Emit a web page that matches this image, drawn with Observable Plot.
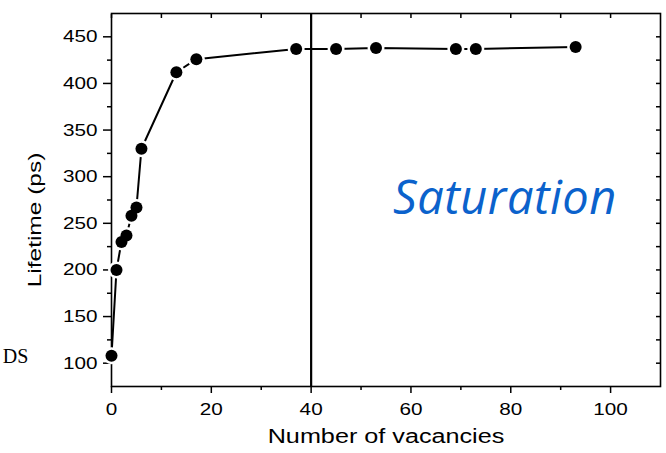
<!DOCTYPE html>
<html><head><meta charset="utf-8">
<script src="https://cdn.jsdelivr.net/npm/d3@7"></script>
<script src="https://cdn.jsdelivr.net/npm/@observablehq/plot@0.6"></script>
<style>body{margin:0;background:#fff}</style>
</head><body><div id="chart"></div>
<script>
const vacancies = [0, 1, 2, 3, 4, 5, 6, 13, 17, 37, 45, 53, 69, 73, 93];
const lifetime = [108, 200, 230, 237, 258, 267, 330, 412, 426, 437, 437, 438, 437, 437, 439];
const xTicks = [0, 20, 40, 60, 80, 100];
const xMinorTicks = [10, 30, 50, 70, 90];
const xTopTicks = [0, 10, 20, 30, 40, 50, 60, 70, 80, 90, 100];
const yTicks = [100, 150, 200, 250, 300, 350, 400, 450];
const yMinorTicks = [125, 175, 225, 275, 325, 375, 425];
const yRightTicks = [100, 125, 150, 175, 200, 225, 250, 275, 300, 325, 350, 375, 400, 425, 450];
const saturationLine = [40];
const annotations = [
  {x: 56.4, y: 276.5, text: "Saturation"}
];
const sideNote = [{x: -21.8, y: 107, text: "DS"}];

const data = vacancies.map((v, i) => ({vacancies: v, lifetime: lifetime[i]}));

const chart = Plot.plot({
  width: 666,
  height: 453,
  marginLeft: 111,
  marginRight: 6,
  marginTop: 13,
  marginBottom: 67,
  style: {fontFamily: "'Liberation Sans', Arial, sans-serif", fontSize: "17px", background: "#fff", color: "#000"},
  x: {domain: [0, 110]},
  y: {domain: [75, 475]},
  marks: [
    Plot.axisX({ticks: xTicks, tickSize: 7, tickPadding: 9, label: "Number of vacancies", labelAnchor: "center", labelOffset: 56, labelArrow: "none", strokeWidth: 1.5}),
    Plot.axisX({ticks: xMinorTicks, tickSize: 4, tickFormat: () => "", label: null, strokeWidth: 1.5}),
    Plot.axisX({anchor: "top", ticks: xTopTicks, tickSize: -4, tickFormat: () => "", label: null, strokeWidth: 1.5}),
    Plot.axisY({ticks: yTicks, tickSize: 8, tickPadding: 6, label: "Lifetime (ps)", labelAnchor: "center", labelOffset: 77, labelArrow: "none", strokeWidth: 1.5}),
    Plot.axisY({ticks: yMinorTicks, tickSize: 4, tickFormat: () => "", label: null, strokeWidth: 1.5}),
    Plot.axisY({anchor: "right", ticks: yRightTicks, tickSize: -5, tickFormat: () => "", label: null, strokeWidth: 1.5}),
    Plot.frame({stroke: "#000", strokeWidth: 1.6}),
    Plot.ruleX(saturationLine, {stroke: "#000", strokeWidth: 2.2}),
    Plot.line(data, {x: "vacancies", y: "lifetime", stroke: "#000", strokeWidth: 2}),
    Plot.dot(data, {x: "vacancies", y: "lifetime", r: 8.5, fill: "#fff"}),
    Plot.dot(data, {x: "vacancies", y: "lifetime", r: 6, fill: "#000"}),
    Plot.text(annotations, {x: "x", y: "y", text: "text", textAnchor: "start", fontSize: 47, fontStyle: "italic", fontFamily: "'Open Sans', sans-serif", fill: "#0b62cc"}),
    Plot.text(sideNote, {x: "x", y: "y", text: "text", textAnchor: "start", fontSize: 20, fontFamily: "'Liberation Serif', serif", fill: "#000", clip: false})
  ]
});
document.getElementById("chart").appendChild(chart);

// Horizontal stretch of axis text, as in the reference
const svg = d3.select(chart);
svg.selectAll('g[aria-label="text"] text').each(function() {
  if (this.textContent === "Saturation") this.style.letterSpacing = "0.5px";
});
svg.selectAll('g[aria-label$="tick label"] text').each(function() {
  const t = this.getAttribute("transform") || "";
  this.setAttribute("transform", t + " scale(1.22,1)");
});
svg.selectAll('g[aria-label="x-axis label"] text').each(function() {
  const t = this.getAttribute("transform") || "";
  this.setAttribute("transform", t + " scale(1.2,1)");
  this.style.fontSize = "21px";
});
svg.selectAll('g[aria-label="y-axis label"] text').each(function() {
  const t = this.getAttribute("transform") || "";
  this.setAttribute("transform", t + " translate(-20,-6) scale(1.36,1)");
  this.style.fontSize = "18px";
  this.style.fontWeight = "normal";
});
</script>
</body></html>
